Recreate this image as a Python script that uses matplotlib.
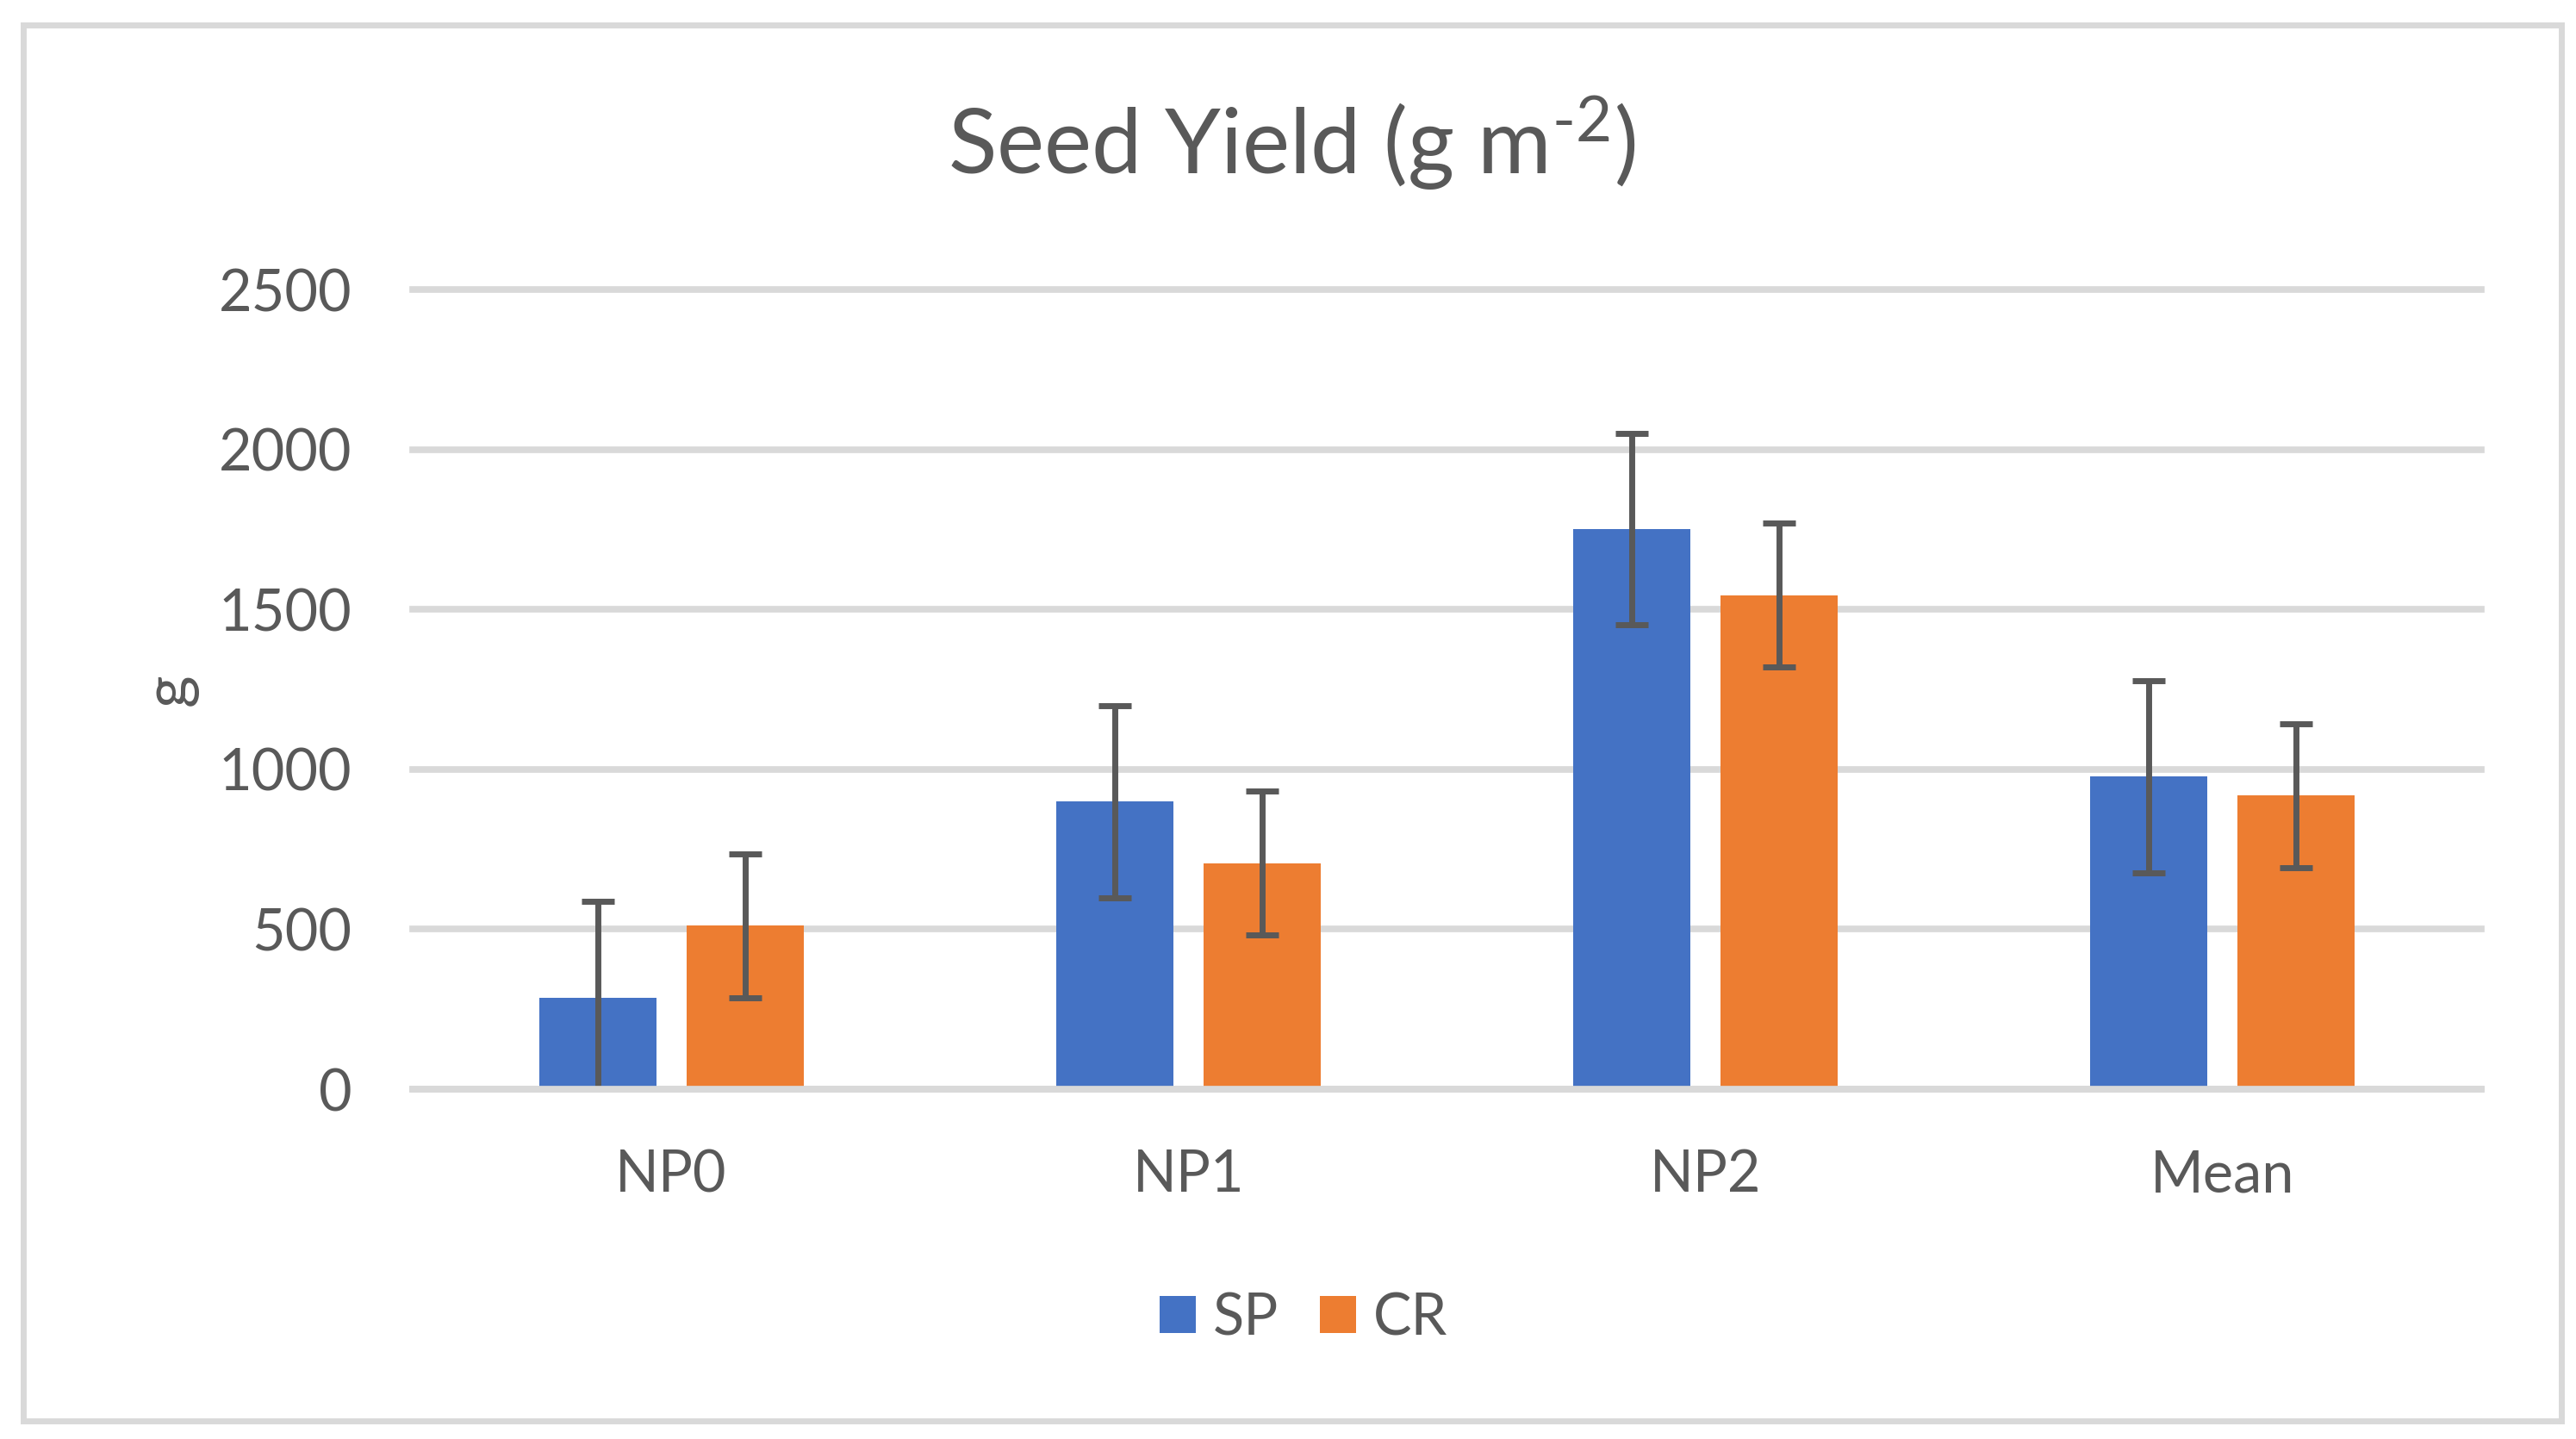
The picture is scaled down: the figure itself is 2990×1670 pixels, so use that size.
import numpy as np
import matplotlib.pyplot as plt
from matplotlib.patches import Rectangle

# data
categories = ['NP0', 'NP1', 'NP2', 'Mean']
sp_values = [286, 899, 1751, 977]
cr_values = [511, 707, 1544, 918]
sp_err = [300, 300, 300, 300]
cr_err = [225, 225, 225, 225]
y_ticks = [0, 500, 1000, 1500, 2000, 2500]

text_color = '#595959'
grid_color = '#D9D9D9'
blue = '#4472C4'
orange = '#ED7D31'

plt.rcParams['font.family'] = ['Lato', 'DejaVu Sans']
plt.rcParams['mathtext.fontset'] = 'custom'
plt.rcParams['mathtext.rm'] = 'Lato'
plt.rcParams['mathtext.it'] = 'Lato'

W, H, DPI = 2990, 1670, 200
fig = plt.figure(figsize=(W / DPI, H / DPI), dpi=DPI)

# axes placed in pixel terms
left, right, top, bottom = 479, 2880, 336, 1264
ax = fig.add_axes([left / W, 1 - bottom / H, (right - left) / W, (bottom - top) / H])

x = np.arange(len(categories))
bar_w = 0.2266
offset = 0.1425

err_style = dict(fmt='none', ecolor=text_color, elinewidth=2.5, capsize=6.8, capthick=2.5, zorder=3)

ax.bar(x - offset, sp_values, bar_w, color=blue, label='SP', zorder=2)
ax.bar(x + offset, cr_values, bar_w, color=orange, label='CR', zorder=2)
ax.errorbar(x - offset, sp_values, yerr=sp_err, **err_style)
ax.errorbar(x + offset, cr_values, yerr=cr_err, **err_style)

ax.set_xlim(-0.5, len(categories) - 0.5)
ax.set_ylim(0, 2500)
ax.set_yticks(y_ticks)
ax.set_xticks(x)
ax.set_xticklabels(categories)

ax.yaxis.grid(True, color=grid_color, linewidth=2.77, zorder=0)
ax.set_axisbelow(True)
for gl in ax.get_ygridlines():
    gl.set_clip_on(False)

for side in ['top', 'left', 'right']:
    ax.spines[side].set_visible(False)
ax.spines['bottom'].set_color(grid_color)
ax.spines['bottom'].set_linewidth(2.77)
ax.spines['bottom'].set_zorder(4)

ax.tick_params(axis='both', length=0, labelsize=24, colors=text_color)
ax.tick_params(axis='y', pad=25.5)
ax.tick_params(axis='x', pad=25.0)

ax.set_ylabel('g', fontsize=26, color=text_color)
ax.yaxis.set_label_coords(-0.104, 0.5)

fig.text(1499 / W, 1 - 202 / H, 'Seed Yield (g m$^{\\text{-}2}$)', fontsize=37.5,
         color=text_color, ha='center', va='baseline')

leg = fig.legend(loc='center', bbox_to_anchor=(1513 / W, 1 - 1530 / H), ncol=2, frameon=False,
                 fontsize=24, handlelength=0.63, handleheight=0.63, handletextpad=0.3,
                 columnspacing=0.72, borderaxespad=0)
for t in leg.get_texts():
    t.set_color(text_color)

# light grey chart border
fig.patches.append(Rectangle((26.5 / W, 1 - 1648.5 / H), (2972.5 - 26.5) / W, (1648.5 - 28.5) / H,
                             transform=fig.transFigure, fill=False, edgecolor=grid_color, linewidth=2.5))

fig.savefig('out.png', dpi=DPI, facecolor='white')
